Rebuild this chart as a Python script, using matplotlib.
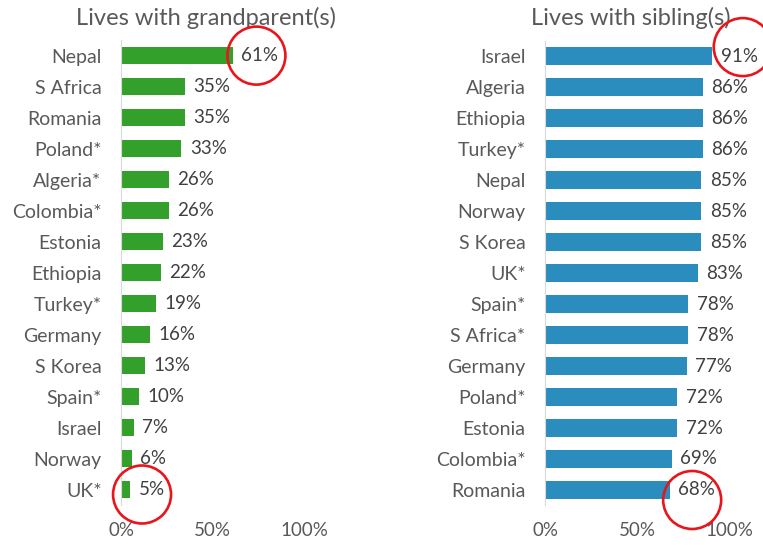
import matplotlib
matplotlib.use("Agg")
import matplotlib.pyplot as plt
from matplotlib.patches import Circle
from matplotlib.transforms import ScaledTranslation
from matplotlib.ticker import PercentFormatter

plt.rcParams['font.family'] = ['Lato', 'DejaVu Sans']

# data, top to bottom as shown
gp_countries = ['Nepal', 'S Africa', 'Romania', 'Poland*', 'Algeria*', 'Colombia*',
                'Estonia', 'Ethiopia', 'Turkey*', 'Germany', 'S Korea', 'Spain*',
                'Israel', 'Norway', 'UK*']
gp_values = [61, 35, 35, 33, 26, 26, 23, 22, 19, 16, 13, 10, 7, 6, 5]

sib_countries = ['Israel', 'Algeria', 'Ethiopia', 'Turkey*', 'Nepal', 'Norway',
                 'S Korea', 'UK*', 'Spain*', 'S Africa*', 'Germany', 'Poland*',
                 'Estonia', 'Colombia*', 'Romania']
sib_values = [91, 86, 86, 86, 85, 85, 85, 83, 78, 78, 77, 72, 72, 69, 68]

x_ticks = [0, 50, 100]

TEXT = '#595959'
DARK = '#404040'
GREEN = '#33a02c'
BLUE = '#2b8cbe'
RED = '#e8151b'


def draw_panel(ax, cats, vals, color, title):
    pos = list(range(len(cats)))
    bars = ax.barh(pos, vals, height=0.56, color=color)
    ax.set_ylim(len(cats) - 0.5, -0.5)
    ax.set_xlim(0, 100)
    ax.set_yticks(pos)
    ax.set_yticklabels(cats)
    ax.set_xticks(x_ticks)
    ax.xaxis.set_major_formatter(PercentFormatter(decimals=0))
    ax.tick_params(axis='y', length=0, pad=14, labelsize=14, labelcolor=TEXT)
    ax.tick_params(axis='x', length=0, pad=12, labelsize=13.5, labelcolor=TEXT)
    for s in ['top', 'right', 'bottom']:
        ax.spines[s].set_visible(False)
    ax.spines['left'].set_color('#d9d9d9')
    ax.bar_label(bars, labels=['%d%%' % v for v in vals], padding=6,
                 fontsize=13.5, color=DARK)
    ax.set_title(title, fontsize=17, color=TEXT, pad=11, x=0.465)


def ring(fig, ax, x, y, dy_px):
    # circle centred on a data point, radius in inches
    tr = fig.dpi_scale_trans + ScaledTranslation(x, y, ax.transData) \
        + ScaledTranslation(0, -dy_px / 100, fig.dpi_scale_trans)
    c = Circle((0, 0), 0.29, transform=tr, fill=False, edgecolor=RED,
               linewidth=1.9, clip_on=False)
    fig.add_artist(c)


fig = plt.figure(figsize=(7.63, 5.45), dpi=100)
ax1 = fig.add_axes([0.1586, 0.0734, 0.2398, 0.853])
ax2 = fig.add_axes([0.7143, 0.0725, 0.2411, 0.853])

draw_panel(ax1, gp_countries, gp_values, GREEN, 'Lives with grandparent(s)')
draw_panel(ax2, sib_countries, sib_values, BLUE, 'Lives with sibling(s)')

ring(fig, ax1, 74, 0, 0)
ring(fig, ax1, 11.5, 14, 5)
ring(fig, ax2, 107.5, 0, -9)
ring(fig, ax2, 80, 14, 10)

fig.savefig('out.png', dpi=100)
